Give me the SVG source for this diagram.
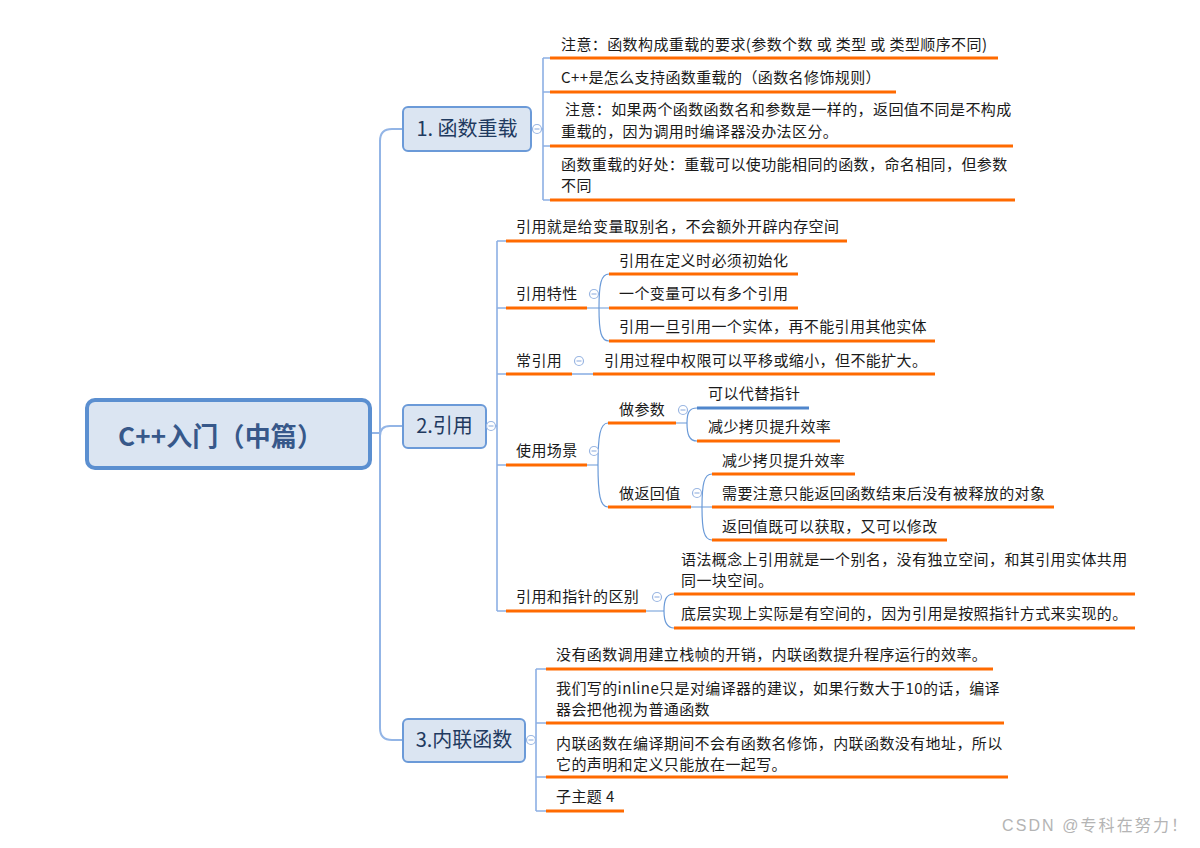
<svg xmlns="http://www.w3.org/2000/svg" width="1200" height="848" viewBox="0 0 1200 848">
<style>
  text { font-family: "Noto Sans CJK SC", "Microsoft YaHei", sans-serif; }
  .t { font-size: 15px; fill: #1a1a1a; letter-spacing: 0.4px; }
  .mn { font-size: 20px; fill: #1f3a60; text-anchor: middle; }
  .root { font-size: 26px; font-weight: bold; fill: #37588a; }
  .nbox { fill: #dbe5f2; stroke: #6b9ad8; stroke-width: 2; }
  .ul { stroke: #ff6a00; stroke-width: 3; fill: none; }
  .ulb { stroke: #4f86cc; stroke-width: 3; fill: none; }
  .trunk { stroke: #93b5e6; stroke-width: 2; fill: none; }
  .br { stroke: #8db0e4; stroke-width: 1.6; fill: none; }
  .cv { stroke: #6a9ad8; stroke-width: 1.2; fill: none; }
  .cc { fill: #fff; stroke: #9ab6e2; stroke-width: 1.2; }
  .wm { font-family: "Liberation Sans", "Noto Sans CJK SC", sans-serif; font-size: 16px; fill: #b4b4b4; }
</style>
<defs>
  <g id="col"><circle r="4.5" class="cc"/><line x1="-2.5" y1="0" x2="2.5" y2="0" stroke="#9ab6e2" stroke-width="1.2"/></g>
</defs>
<rect width="1200" height="848" fill="#ffffff"/>

<g id="connectors">
  <path class="trunk" d="M372 433 H380"/>
  <path class="trunk" d="M403 129 H392 Q380 129 380 141 V728 Q380 740 392 740 H403"/>
  <path class="trunk" d="M380 436 Q380 426 390 426 H403"/>
  <path class="br" d="M531 129 H543 M543 58 V200 M543 58 H550 M543 92 H550 M543 146 H550 M543 200 H550"/>
  <path class="br" d="M486 426 H497 M497 241 V611 M497 241 H506 M497 308 H506 M497 374 H506 M497 465 H506 M497 611 H506"/>
  <path class="br" d="M525 740 H536 M536 669 V811 M536 669 H546 M536 723 H546 M536 777 H546 M536 811 H546"/>
  <path class="cv" d="M587 308 H609 M599 308 C599 284 601 274 609 274 M599 308 C599 332 601 341 609 341"/>
  <path class="br" d="M572 374 H593"/>
  <path class="cv" d="M587 465 H598 M598 465 C598 436 600 423 608 423 M598 465 C598 494 600 507 608 507"/>
  <path class="cv" d="M676 423 H687 M687 423 C687 413 689 408 697 408 M687 423 C687 434 689 441 697 441"/>
  <path class="cv" d="M691 507 H712 M702 507 C702 484 704 474 712 474 M702 507 C702 530 704 540 712 540"/>
  <path class="cv" d="M646 611 H664 M664 611 C664 600 666 594 674 594 M664 611 C664 621 666 628 674 628"/>
</g>

<g id="root">
  <rect x="87" y="400" width="283" height="68" rx="8" fill="#dbe5f2" stroke="#5b8fd0" stroke-width="4"/>
  <text class="root" x="118" y="446" textLength="205">C++入门（中篇）</text>
</g>

<g id="n1">
  <rect class="nbox" x="403" y="107" width="128" height="44" rx="5"/>
  <text class="mn" x="467" y="136">1. 函数重载</text>
  <use href="#col" x="537" y="129"/>
</g>
<g id="n1c1">
  <text class="t" x="561" y="50">注意：函数构成重载的要求(参数个数 或 类型 或 类型顺序不同)</text>
  <line class="ul" x1="550" y1="58" x2="998" y2="58"/>
</g>
<g id="n1c2">
  <text class="t" x="561" y="83">C++是怎么支持函数重载的（函数名修饰规则）</text>
  <line class="ul" x1="550" y1="92" x2="896" y2="92"/>
</g>
<g id="n1c3">
  <text class="t" x="565" y="115">注意：如果两个函数函数名和参数是一样的，返回值不同是不构成</text>
  <text class="t" x="561" y="137">重载的，因为调用时编译器没办法区分。</text>
  <line class="ul" x1="550" y1="146" x2="1013" y2="146"/>
</g>
<g id="n1c4">
  <text class="t" x="561" y="170">函数重载的好处：重载可以使功能相同的函数，命名相同，但参数</text>
  <text class="t" x="561" y="191">不同</text>
  <line class="ul" x1="550" y1="200" x2="1015" y2="200"/>
</g>

<g id="n2">
  <rect class="nbox" x="403" y="405" width="83" height="43" rx="5"/>
  <text class="mn" x="444.5" y="433">2.引用</text>
  <use href="#col" x="491" y="426"/>
</g>
<g id="n2c1">
  <text class="t" x="516" y="232">引用就是给变量取别名，不会额外开辟内存空间</text>
  <line class="ul" x1="506" y1="241" x2="847" y2="241"/>
</g>
<g id="n2c2">
  <text class="t" x="516" y="299">引用特性</text>
  <line class="ul" x1="506" y1="308" x2="587" y2="308"/>
  <use href="#col" x="594" y="294"/>
</g>
<g id="n2c2a">
  <text class="t" x="619" y="266">引用在定义时必须初始化</text>
  <line class="ul" x1="609" y1="274" x2="798" y2="274"/>
</g>
<g id="n2c2b">
  <text class="t" x="619" y="299">一个变量可以有多个引用</text>
  <line class="ul" x1="609" y1="308" x2="798" y2="308"/>
</g>
<g id="n2c2c">
  <text class="t" x="619" y="332">引用一旦引用一个实体，再不能引用其他实体</text>
  <line class="ul" x1="609" y1="341" x2="935" y2="341"/>
</g>
<g id="n2c3">
  <text class="t" x="516" y="366">常引用</text>
  <line class="ul" x1="506" y1="374" x2="572" y2="374"/>
  <use href="#col" x="579" y="361"/>
</g>
<g id="n2c3a">
  <text class="t" x="604" y="366">引用过程中权限可以平移或缩小，但不能扩大。</text>
  <line class="ul" x1="593" y1="374" x2="935" y2="374"/>
</g>
<g id="n2c4">
  <text class="t" x="516" y="456">使用场景</text>
  <line class="ul" x1="506" y1="465" x2="587" y2="465"/>
  <use href="#col" x="594" y="451"/>
</g>
<g id="n2c4a">
  <text class="t" x="619" y="415">做参数</text>
  <line class="ul" x1="608" y1="423" x2="676" y2="423"/>
  <use href="#col" x="683" y="410"/>
</g>
<g id="n2c4a1">
  <text class="t" x="708" y="399">可以代替指针</text>
  <line class="ulb" x1="697" y1="408" x2="809" y2="408"/>
</g>
<g id="n2c4a2">
  <text class="t" x="708" y="432">减少拷贝提升效率</text>
  <line class="ul" x1="697" y1="441" x2="840" y2="441"/>
</g>
<g id="n2c4b">
  <text class="t" x="619" y="499">做返回值</text>
  <line class="ul" x1="608" y1="507" x2="691" y2="507"/>
  <use href="#col" x="697" y="493"/>
</g>
<g id="n2c4b1">
  <text class="t" x="722" y="466">减少拷贝提升效率</text>
  <line class="ul" x1="712" y1="474" x2="855" y2="474"/>
</g>
<g id="n2c4b2">
  <text class="t" x="722" y="499">需要注意只能返回函数结束后没有被释放的对象</text>
  <line class="ul" x1="712" y1="507" x2="1054" y2="507"/>
</g>
<g id="n2c4b3">
  <text class="t" x="722" y="532">返回值既可以获取，又可以修改</text>
  <line class="ul" x1="712" y1="540" x2="947" y2="540"/>
</g>
<g id="n2c5">
  <text class="t" x="516" y="602">引用和指针的区别</text>
  <line class="ul" x1="506" y1="611" x2="646" y2="611"/>
  <use href="#col" x="657" y="597"/>
</g>
<g id="n2c5a">
  <text class="t" x="681" y="565">语法概念上引用就是一个别名，没有独立空间，和其引用实体共用</text>
  <text class="t" x="681" y="586">同一块空间。</text>
  <line class="ul" x1="674" y1="594" x2="1135" y2="594"/>
</g>
<g id="n2c5b">
  <text class="t" x="681" y="619">底层实现上实际是有空间的，因为引用是按照指针方式来实现的。</text>
  <line class="ul" x1="674" y1="628" x2="1135" y2="628"/>
</g>

<g id="n3">
  <rect class="nbox" x="403" y="719" width="122" height="43" rx="5"/>
  <text class="mn" x="464" y="747">3.内联函数</text>
  <use href="#col" x="531" y="740"/>
</g>
<g id="n3c1">
  <text class="t" x="556" y="660">没有函数调用建立栈帧的开销，内联函数提升程序运行的效率。</text>
  <line class="ul" x1="546" y1="669" x2="993" y2="669"/>
</g>
<g id="n3c2">
  <text class="t" x="556" y="694">我们写的inline只是对编译器的建议，如果行数大于10的话，编译</text>
  <text class="t" x="556" y="715">器会把他视为普通函数</text>
  <line class="ul" x1="546" y1="723" x2="1004" y2="723"/>
</g>
<g id="n3c3">
  <text class="t" x="556" y="749">内联函数在编译期间不会有函数名修饰，内联函数没有地址，所以</text>
  <text class="t" x="556" y="770">它的声明和定义只能放在一起写。</text>
  <line class="ul" x1="546" y1="777" x2="1008" y2="777"/>
</g>
<g id="n3c4">
  <text class="t" x="556" y="802">子主题 4</text>
  <line class="ul" x1="546" y1="811" x2="624" y2="811"/>
</g>

<text class="wm" x="1002" y="831" textLength="185">CSDN @专科在努力！</text>
</svg>
